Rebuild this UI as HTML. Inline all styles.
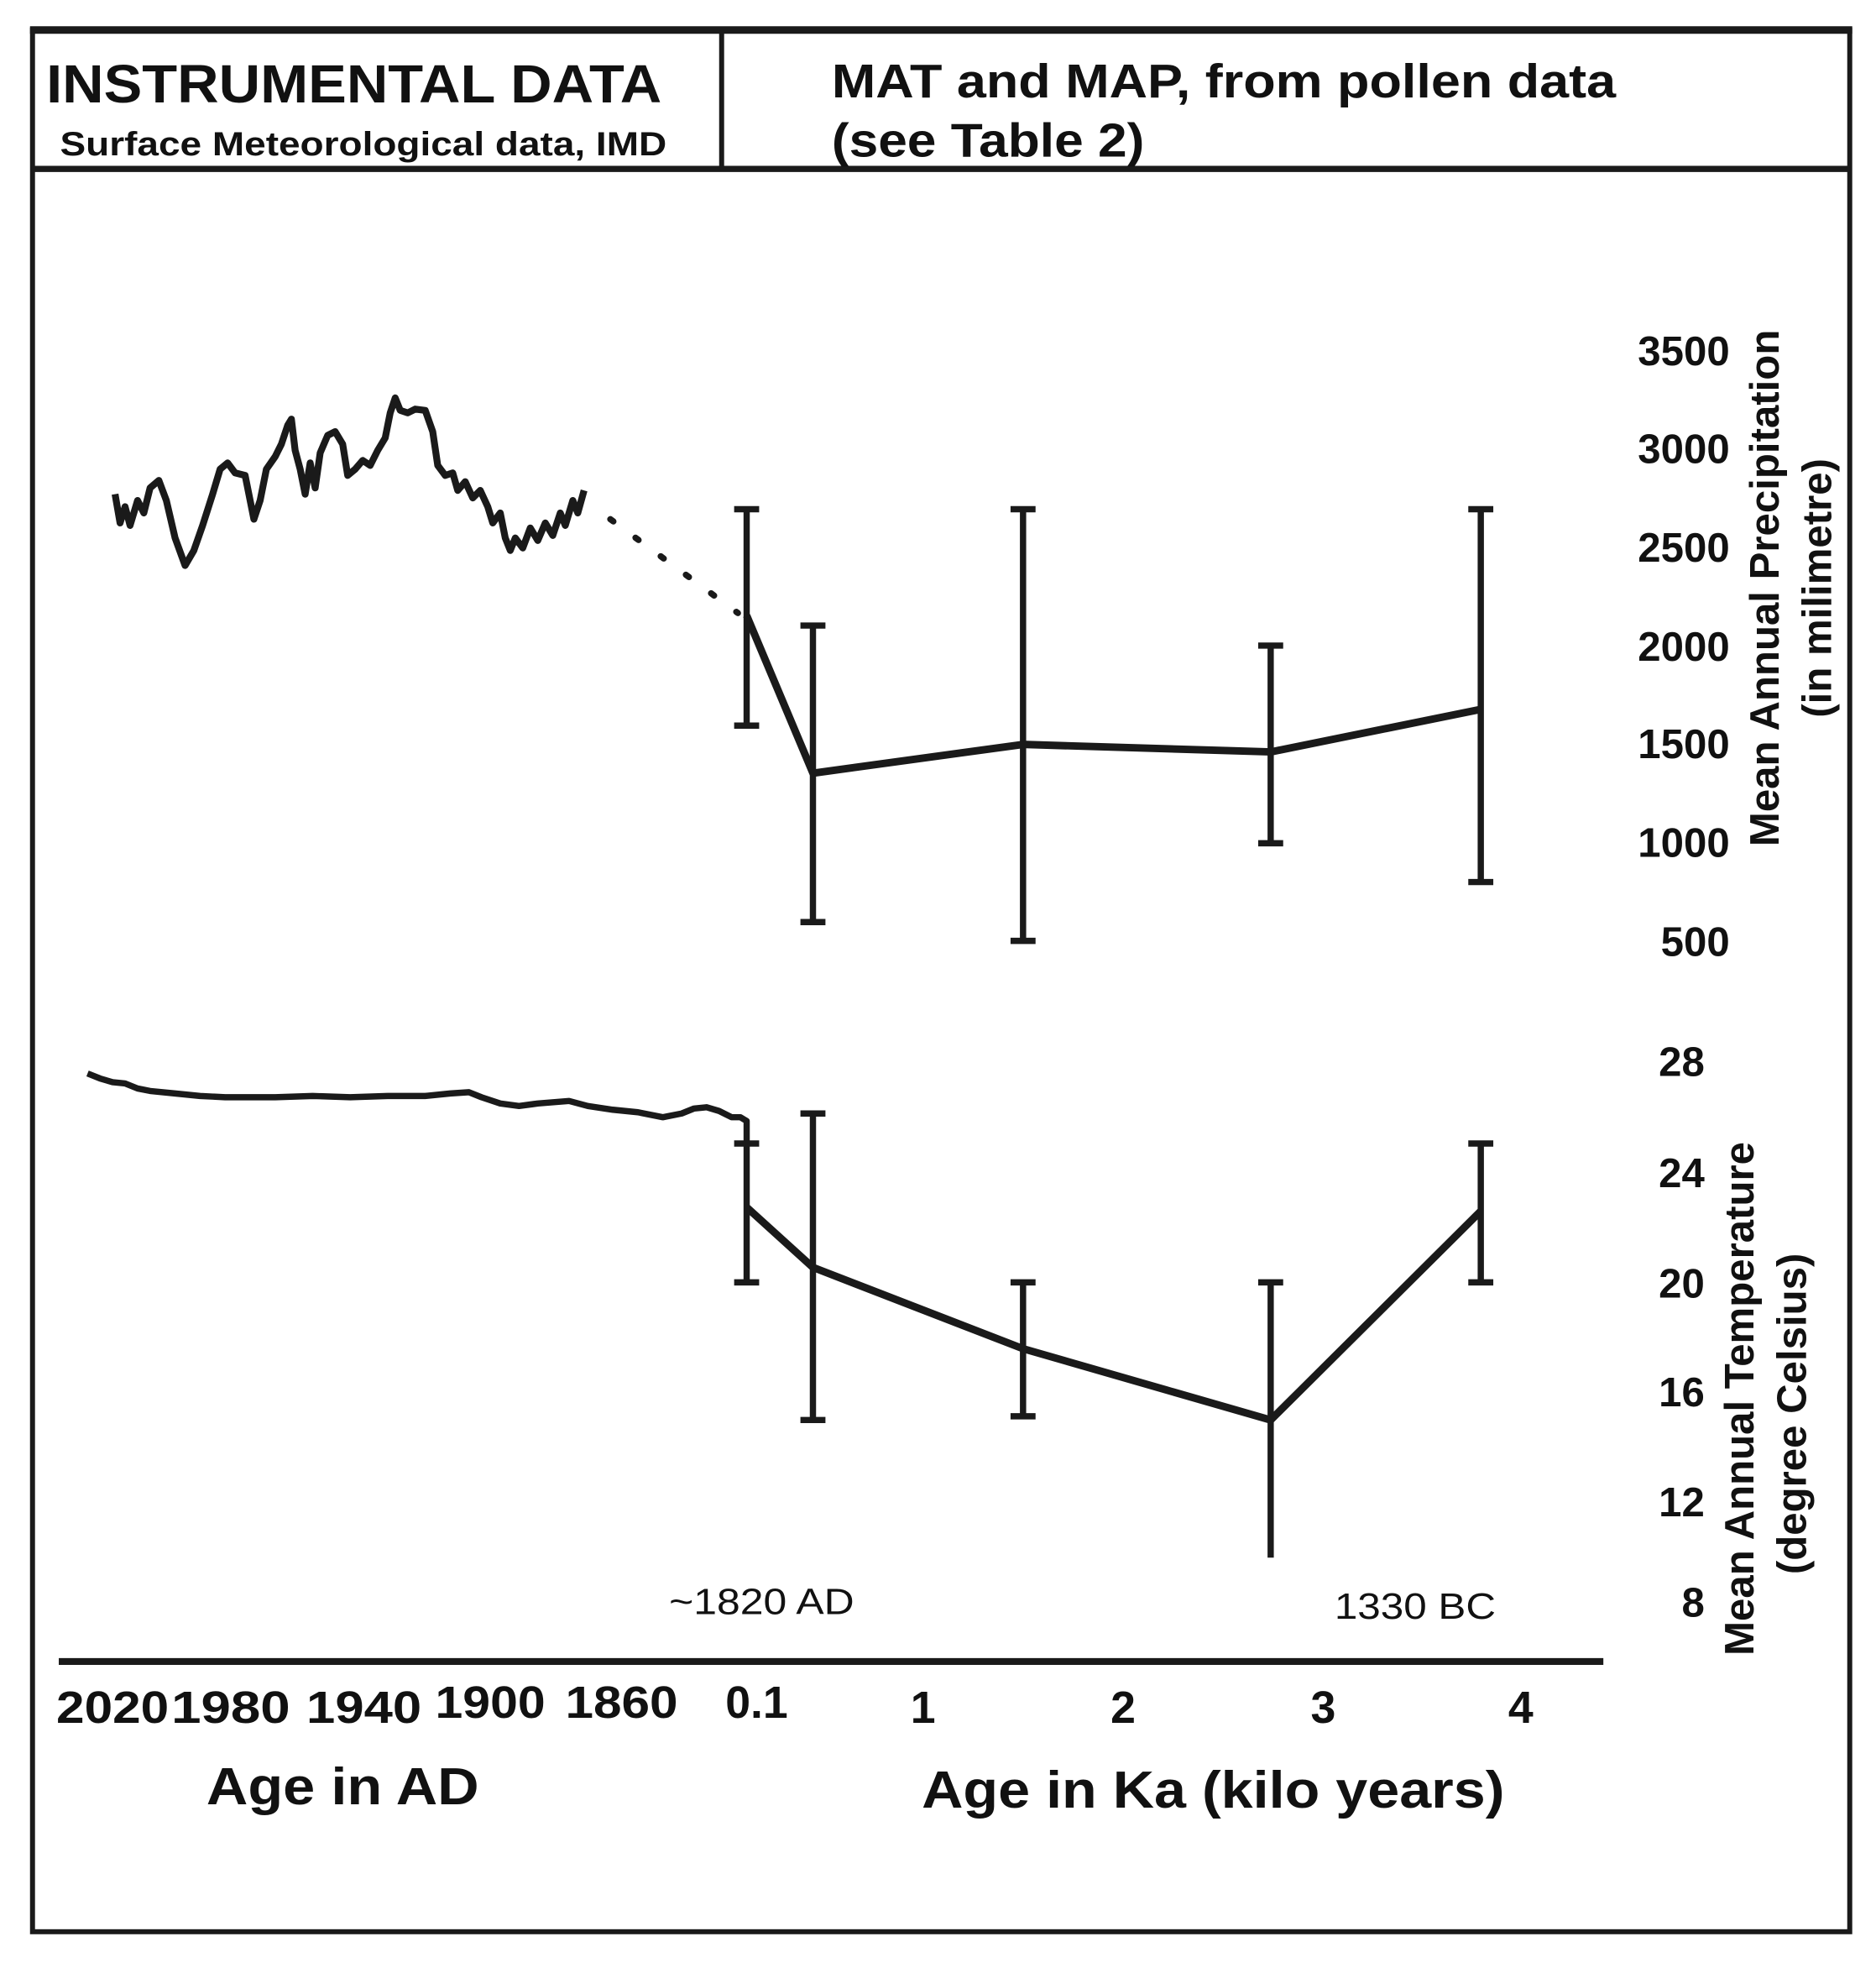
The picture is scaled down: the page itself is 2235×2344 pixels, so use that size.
<!DOCTYPE html>
<html><head><meta charset="utf-8"><style>html,body{margin:0;padding:0;background:#fff}svg{display:block}</style></head>
<body>
<svg width="2235" height="2344" viewBox="0 0 1500 1573" preserveAspectRatio="none" xmlns="http://www.w3.org/2000/svg" font-family="Liberation Sans, Arial, sans-serif" font-weight="bold" fill="#111">
<rect x="26" y="24" width="1453" height="1520" fill="none" stroke="#1a1a1a" stroke-width="4"/>
<line x1="24" y1="24" x2="1481" y2="24" stroke="#1a1a1a" stroke-width="6"/>
<line x1="26" y1="135" x2="1479" y2="135" stroke="#1a1a1a" stroke-width="5"/>
<line x1="577" y1="24" x2="577" y2="135" stroke="#1a1a1a" stroke-width="4"/>
<text x="37" y="82" font-size="43" textLength="492" lengthAdjust="spacingAndGlyphs">INSTRUMENTAL DATA</text>
<text x="48" y="124" font-size="27" textLength="485" lengthAdjust="spacingAndGlyphs">Surface Meteorological data, IMD</text>
<text x="665" y="78" font-size="38" textLength="627" lengthAdjust="spacingAndGlyphs">MAT and MAP, from pollen data</text>
<text x="665" y="125" font-size="38" textLength="250" lengthAdjust="spacingAndGlyphs">(see Table 2)</text>
<g font-size="33" text-anchor="end">
<text x="1383" y="292">3500</text><text x="1383" y="370">3000</text><text x="1383" y="449">2500</text><text x="1383" y="528">2000</text><text x="1383" y="606">1500</text><text x="1383" y="685">1000</text><text x="1383" y="764">500</text>
<text x="1363" y="860">28</text><text x="1363" y="949">24</text><text x="1363" y="1037">20</text><text x="1363" y="1124">16</text><text x="1363" y="1212">12</text><text x="1363" y="1292">8</text>
</g>
<g font-size="33">
<text transform="translate(1422,470) rotate(-90)" text-anchor="middle">Mean Annual Precipitation</text>
<text transform="translate(1464,470) rotate(-90)" text-anchor="middle">(in  milimetre)</text>
<text transform="translate(1402,1118) rotate(-90)" text-anchor="middle">Mean Annual Temperature</text>
<text transform="translate(1444,1130) rotate(-90)" text-anchor="middle">(degree Celsius)</text>
</g>
<g fill="none" stroke="#1a1a1a" stroke-linejoin="round">
<polyline stroke-width="5.5" points="92,395 96,418 100,405 104,420 110,400 115,410 120,390 127,384 133,400 140,430 148,452 155,440 162,420 170,395 176,375 182,370 188,378 196,380 203,415 208,400 213,375 220,365 225,355 230,340 233,335 236,360 240,375 244,395 248,370 252,390 256,362 262,348 268,345 274,355 278,380 284,375 290,368 296,372 302,360 308,350 312,330 316,318 320,328 326,330 332,327 340,328 346,345 350,372 356,380 362,378 366,392 372,385 378,398 384,392 390,405 394,418 400,410 404,430 408,440 412,430 418,438 424,422 430,432 436,418 442,428 448,410 452,420 458,400 462,410 467,392"/>
<line x1="488" y1="415" x2="590" y2="490" stroke-width="5" stroke-dasharray="3,22" stroke-linecap="round"/>
<polyline stroke-width="6" points="597,492 650,618 818,595 1016,601 1184,567"/>
<polyline stroke-width="5" points="70,858 80,862 90,865 100,866 110,870 120,872 140,874 160,876 180,877 200,877 220,877 250,876 280,877 310,876 340,876 360,874 375,873 385,877 400,882 415,884 430,882 455,880 470,884 490,887 510,889 530,893 545,890 555,886 565,885 575,888 585,893 592,893 597,896 597,914"/>
<polyline stroke-width="6" points="597,965 650,1013 818,1078 1016,1135 1184,968"/>
<g stroke-width="5">
<path d="M597,407V580M587,407h20M587,580h20"/>
<path d="M650,500V737M640,500h20M640,737h20"/>
<path d="M818,407V752M808,407h20M808,752h20"/>
<path d="M1016,516V674M1006,516h20M1006,674h20"/>
<path d="M1184,407V705M1174,407h20M1174,705h20"/>
<path d="M597,914V1025M587,914h20M587,1025h20"/>
<path d="M650,890V1135M640,890h20M640,1135h20"/>
<path d="M818,1025V1132M808,1025h20M808,1132h20"/>
<path d="M1016,1025V1245M1006,1025h20"/>
<path d="M1184,914V1025M1174,914h20M1174,1025h20"/>
</g>
<line x1="47" y1="1328" x2="1282" y2="1328" stroke-width="5.5"/>
</g>
<g font-weight="normal" font-size="29">
<text x="535" y="1290" textLength="148" lengthAdjust="spacingAndGlyphs">~1820 AD</text>
<text x="1067" y="1294" textLength="129" lengthAdjust="spacingAndGlyphs">1330 BC</text>
</g>
<g font-size="36">
<text x="45" y="1377" textLength="90" lengthAdjust="spacingAndGlyphs">2020</text>
<text x="137" y="1377" textLength="95" lengthAdjust="spacingAndGlyphs">1980</text>
<text x="245" y="1377" textLength="92" lengthAdjust="spacingAndGlyphs">1940</text>
<text x="348" y="1373" textLength="88" lengthAdjust="spacingAndGlyphs">1900</text>
<text x="452" y="1373" textLength="90" lengthAdjust="spacingAndGlyphs">1860</text>
<text x="580" y="1373">0.1</text>
<g text-anchor="middle"><text x="738" y="1377">1</text><text x="898" y="1377">2</text><text x="1058" y="1377">3</text><text x="1216" y="1377">4</text></g>
</g>
<g font-size="42">
<text x="165" y="1442" textLength="218" lengthAdjust="spacingAndGlyphs">Age in AD</text>
<text x="737" y="1445" textLength="466" lengthAdjust="spacingAndGlyphs">Age in Ka (kilo years)</text>
</g>
</svg>
</body></html>
